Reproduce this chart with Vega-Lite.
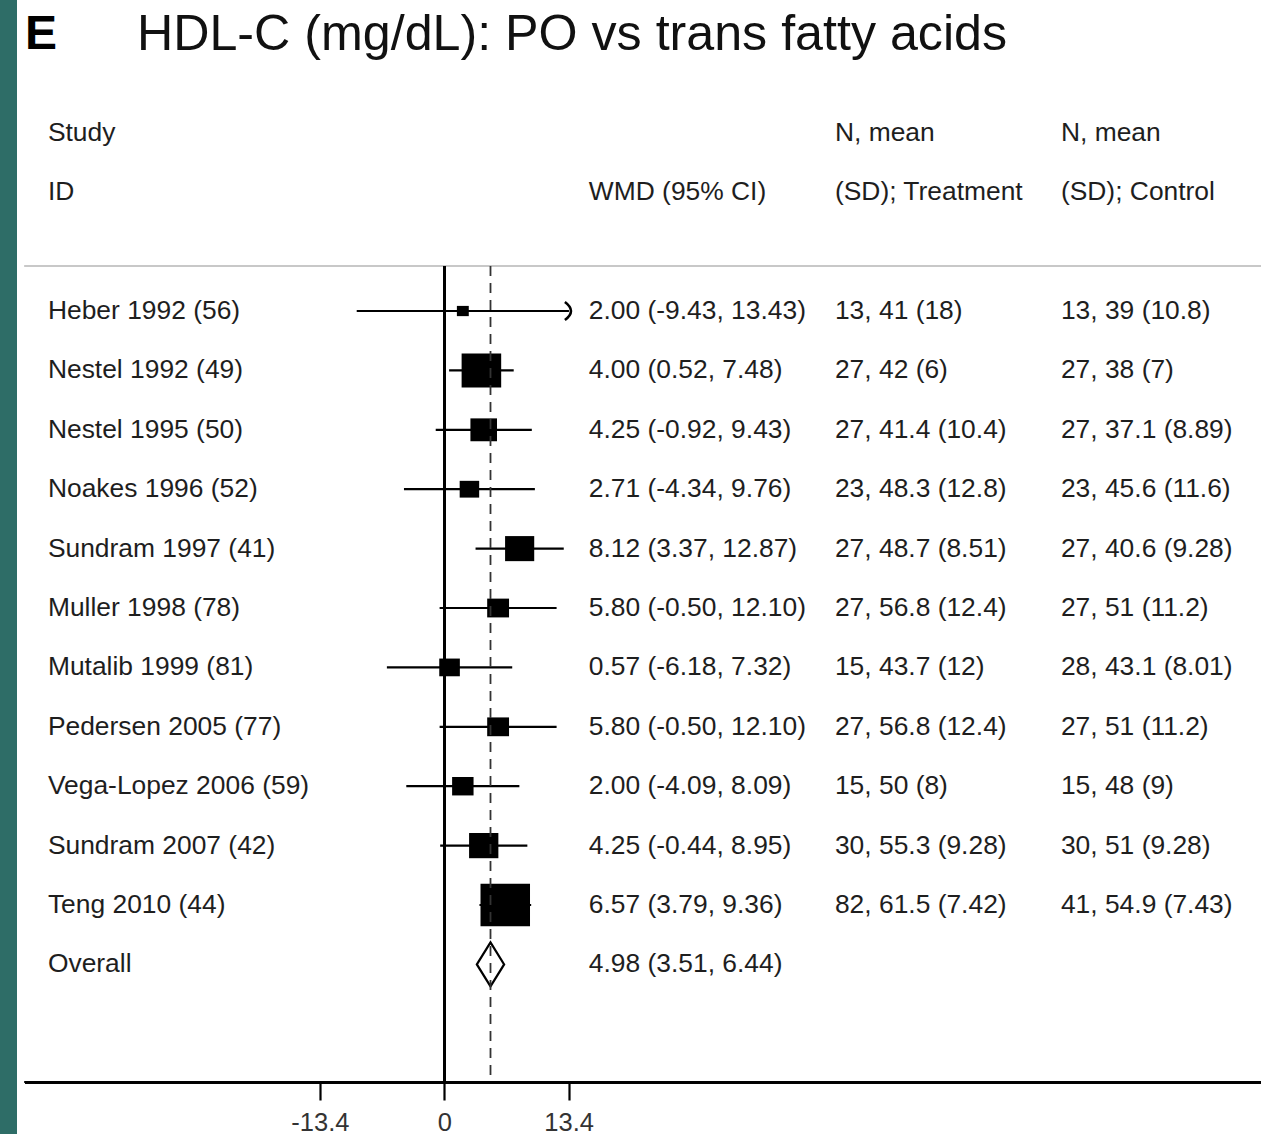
{
  "$schema": "https://vega.github.io/schema/vega-lite/v6.json",
  "width": 1244,
  "height": 1134,
  "autosize": {"type": "none"},
  "padding": {"left": 17, "top": 0, "right": 0, "bottom": 0},
  "background": "#2e6d67",
  "view": {"fill": "white", "stroke": null},
  "config": {
    "font": "Liberation Sans",
    "text": {"font": "Liberation Sans", "fontSize": 26.4, "color": "#1e1e1e", "align": "left", "baseline": "middle"}
  },
  "datasets": {
    "rows": [
      {"row": -2, "study": "Study", "treat": "N, mean", "ctrl": "N, mean"},
      {"row": -1, "study": "ID", "wmd": "WMD (95% CI)", "treat": "(SD); Treatment", "ctrl": "(SD); Control"},
      {"row": 1, "study": "Heber 1992 (56)", "est": 2.00, "lo": -9.43, "hi": 13.43, "weight": 1.6, "wmd": "2.00 (-9.43, 13.43)", "treat": "13, 41 (18)", "ctrl": "13, 39 (10.8)"},
      {"row": 2, "study": "Nestel 1992 (49)", "est": 4.00, "lo": 0.52, "hi": 7.48, "weight": 17.7, "wmd": "4.00 (0.52, 7.48)", "treat": "27, 42 (6)", "ctrl": "27, 38 (7)"},
      {"row": 3, "study": "Nestel 1995 (50)", "est": 4.25, "lo": -0.92, "hi": 9.43, "weight": 8.0, "wmd": "4.25 (-0.92, 9.43)", "treat": "27, 41.4 (10.4)", "ctrl": "27, 37.1 (8.89)"},
      {"row": 4, "study": "Noakes 1996 (52)", "est": 2.71, "lo": -4.34, "hi": 9.76, "weight": 4.3, "wmd": "2.71 (-4.34, 9.76)", "treat": "23, 48.3 (12.8)", "ctrl": "23, 45.6 (11.6)"},
      {"row": 5, "study": "Sundram 1997 (41)", "est": 8.12, "lo": 3.37, "hi": 12.87, "weight": 9.6, "wmd": "8.12 (3.37, 12.87)", "treat": "27, 48.7 (8.51)", "ctrl": "27, 40.6 (9.28)"},
      {"row": 6, "study": "Muller 1998 (78)", "est": 5.80, "lo": -0.50, "hi": 12.10, "weight": 5.4, "wmd": "5.80 (-0.50, 12.10)", "treat": "27, 56.8 (12.4)", "ctrl": "27, 51 (11.2)"},
      {"row": 7, "study": "Mutalib 1999 (81)", "est": 0.57, "lo": -6.18, "hi": 7.32, "weight": 4.8, "wmd": "0.57 (-6.18, 7.32)", "treat": "15, 43.7 (12)", "ctrl": "28, 43.1 (8.01)"},
      {"row": 8, "study": "Pedersen 2005 (77)", "est": 5.80, "lo": -0.50, "hi": 12.10, "weight": 5.4, "wmd": "5.80 (-0.50, 12.10)", "treat": "27, 56.8 (12.4)", "ctrl": "27, 51 (11.2)"},
      {"row": 9, "study": "Vega-Lopez 2006 (59)", "est": 2.00, "lo": -4.09, "hi": 8.09, "weight": 5.2, "wmd": "2.00 (-4.09, 8.09)", "treat": "15, 50 (8)", "ctrl": "15, 48 (9)"},
      {"row": 10, "study": "Sundram 2007 (42)", "est": 4.25, "lo": -0.44, "hi": 8.95, "weight": 9.7, "wmd": "4.25 (-0.44, 8.95)", "treat": "30, 55.3 (9.28)", "ctrl": "30, 51 (9.28)"},
      {"row": 11, "study": "Teng 2010 (44)", "est": 6.57, "lo": 3.79, "hi": 9.36, "weight": 27.7, "wmd": "6.57 (3.79, 9.36)", "treat": "82, 61.5 (7.42)", "ctrl": "41, 54.9 (7.43)"},
      {"row": 12, "study": "Overall", "est": 4.98, "lo": 3.51, "hi": 6.44, "overall": true, "wmd": "4.98 (3.51, 6.44)"}
    ]
  },
  "data": {"name": "rows"},
  "layer": [
    {
      "mark": {"type": "rule", "color": "#c8c8c8", "strokeWidth": 2},
      "encoding": {
        "x": {"datum": -45.17, "type": "quantitative", "scale": {"domain": [-46.02, 87.97], "nice": false, "zero": false},
              "axis": {"values": [-13.4, 0, 13.4], "offset": -52, "domain": false, "grid": false, "title": null, "tickSize": 18, "tickWidth": 2.2, "tickColor": "black", "labelFont": "Liberation Sans", "labelFontSize": 25.5, "labelColor": "#333333", "labelPadding": 10, "labelExpr": "replace(format(datum.value, '.1~f'), '\u2212', '-')"}},
        "x2": {"datum": 87.97},
        "y": {"datum": 0.242, "type": "quantitative", "scale": {"domain": [-4.236, 14.855], "nice": false, "zero": false, "reverse": true}, "axis": null}
      }
    },
    {
      "mark": {"type": "rule", "color": "black", "strokeWidth": 2.2},
      "encoding": {
        "x": {"datum": -45.17, "type": "quantitative", "axis": {"values": [-13.4, 0, 13.4], "offset": -52, "domain": false, "grid": false, "title": null, "tickSize": 18, "tickWidth": 2.2, "tickColor": "black", "labelFont": "Liberation Sans", "labelFontSize": 25.5, "labelColor": "#333333", "labelPadding": 10, "labelExpr": "replace(format(datum.value, '.1~f'), '\u2212', '-')"}},
        "x2": {"datum": 87.97},
        "y": {"datum": 13.98, "type": "quantitative", "axis": null}
      }
    },
    {
      "mark": {"type": "rule", "color": "black", "strokeWidth": 2.2},
      "encoding": {
        "x": {"datum": 0, "type": "quantitative", "axis": {"values": [-13.4, 0, 13.4], "offset": -52, "domain": false, "grid": false, "title": null, "tickSize": 18, "tickWidth": 2.2, "tickColor": "black", "labelFont": "Liberation Sans", "labelFontSize": 25.5, "labelColor": "#333333", "labelPadding": 10, "labelExpr": "replace(format(datum.value, '.1~f'), '\u2212', '-')"}},
        "y": {"datum": 0.242, "type": "quantitative", "axis": null},
        "y2": {"datum": 13.98}
      }
    },
    {
      "transform": [{"filter": "datum.row > 0 && !datum.overall"}],
      "mark": {"type": "rule", "color": "black", "strokeWidth": 2.2},
      "encoding": {
        "x": {"field": "lo", "type": "quantitative", "axis": {"values": [-13.4, 0, 13.4], "offset": -52, "domain": false, "grid": false, "title": null, "tickSize": 18, "tickWidth": 2.2, "tickColor": "black", "labelFont": "Liberation Sans", "labelFontSize": 25.5, "labelColor": "#333333", "labelPadding": 10, "labelExpr": "replace(format(datum.value, '.1~f'), '\u2212', '-')"}},
        "x2": {"field": "hi"},
        "y": {"field": "row", "type": "quantitative", "axis": null}
      }
    },
    {
      "transform": [{"filter": "datum.row > 0 && !datum.overall"}],
      "mark": {"type": "point", "shape": "M-1,-0.86H1V0.86H-1Z", "filled": true, "color": "black", "opacity": 1},
      "encoding": {
        "x": {"field": "est", "type": "quantitative", "axis": {"values": [-13.4, 0, 13.4], "offset": -52, "domain": false, "grid": false, "title": null, "tickSize": 18, "tickWidth": 2.2, "tickColor": "black", "labelFont": "Liberation Sans", "labelFontSize": 25.5, "labelColor": "#333333", "labelPadding": 10, "labelExpr": "replace(format(datum.value, '.1~f'), '\u2212', '-')"}},
        "y": {"field": "row", "type": "quantitative", "axis": null},
        "size": {"field": "weight", "type": "quantitative", "scale": {"type": "linear", "domain": [0, 27.7], "range": [0, 2450], "zero": true}, "legend": null}
      }
    },
    {
      "transform": [{"filter": "datum.hi > 13.4"}],
      "mark": {"type": "point", "shape": "M-0.45,-1Q0.9,0,-0.45,1", "filled": false, "stroke": "black", "strokeWidth": 2.6, "size": 324, "opacity": 1},
      "encoding": {
        "x": {"field": "hi", "type": "quantitative", "axis": {"values": [-13.4, 0, 13.4], "offset": -52, "domain": false, "grid": false, "title": null, "tickSize": 18, "tickWidth": 2.2, "tickColor": "black", "labelFont": "Liberation Sans", "labelFontSize": 25.5, "labelColor": "#333333", "labelPadding": 10, "labelExpr": "replace(format(datum.value, '.1~f'), '\u2212', '-')"}},
        "y": {"field": "row", "type": "quantitative", "axis": null}
      }
    },
    {
      "transform": [{"filter": "datum.overall"}],
      "mark": {"type": "point", "shape": "M-0.62,0L0,-1L0.62,0L0,1Z", "filled": true, "fill": "white", "stroke": "black", "strokeWidth": 2.2, "size": 1936, "opacity": 1, "fillOpacity": 1, "strokeOpacity": 1},
      "encoding": {
        "x": {"field": "est", "type": "quantitative", "axis": {"values": [-13.4, 0, 13.4], "offset": -52, "domain": false, "grid": false, "title": null, "tickSize": 18, "tickWidth": 2.2, "tickColor": "black", "labelFont": "Liberation Sans", "labelFontSize": 25.5, "labelColor": "#333333", "labelPadding": 10, "labelExpr": "replace(format(datum.value, '.1~f'), '\u2212', '-')"}},
        "y": {"field": "row", "type": "quantitative", "axis": null}
      }
    },
    {
      "transform": [{"filter": "datum.overall"}],
      "mark": {"type": "rule", "color": "#333333", "strokeWidth": 1.8, "strokeDash": [10, 7]},
      "encoding": {
        "x": {"field": "est", "type": "quantitative", "axis": {"values": [-13.4, 0, 13.4], "offset": -52, "domain": false, "grid": false, "title": null, "tickSize": 18, "tickWidth": 2.2, "tickColor": "black", "labelFont": "Liberation Sans", "labelFontSize": 25.5, "labelColor": "#333333", "labelPadding": 10, "labelExpr": "replace(format(datum.value, '.1~f'), '\u2212', '-')"}},
        "y": {"datum": 0.242, "type": "quantitative", "axis": null},
        "y2": {"datum": 13.98}
      }
    },
    {
      "mark": {"type": "text"},
      "encoding": {
        "x": {"datum": -42.69, "type": "quantitative", "axis": {"values": [-13.4, 0, 13.4], "offset": -52, "domain": false, "grid": false, "title": null, "tickSize": 18, "tickWidth": 2.2, "tickColor": "black", "labelFont": "Liberation Sans", "labelFontSize": 25.5, "labelColor": "#333333", "labelPadding": 10, "labelExpr": "replace(format(datum.value, '.1~f'), '\u2212', '-')"}},
        "y": {"field": "row", "type": "quantitative", "axis": null},
        "text": {"field": "study"}
      }
    },
    {
      "transform": [{"filter": "isValid(datum.wmd)"}],
      "mark": {"type": "text"},
      "encoding": {
        "x": {"datum": 15.57, "type": "quantitative", "axis": {"values": [-13.4, 0, 13.4], "offset": -52, "domain": false, "grid": false, "title": null, "tickSize": 18, "tickWidth": 2.2, "tickColor": "black", "labelFont": "Liberation Sans", "labelFontSize": 25.5, "labelColor": "#333333", "labelPadding": 10, "labelExpr": "replace(format(datum.value, '.1~f'), '\u2212', '-')"}},
        "y": {"field": "row", "type": "quantitative", "axis": null},
        "text": {"field": "wmd"}
      }
    },
    {
      "transform": [{"filter": "isValid(datum.treat)"}],
      "mark": {"type": "text"},
      "encoding": {
        "x": {"datum": 42.08, "type": "quantitative", "axis": {"values": [-13.4, 0, 13.4], "offset": -52, "domain": false, "grid": false, "title": null, "tickSize": 18, "tickWidth": 2.2, "tickColor": "black", "labelFont": "Liberation Sans", "labelFontSize": 25.5, "labelColor": "#333333", "labelPadding": 10, "labelExpr": "replace(format(datum.value, '.1~f'), '\u2212', '-')"}},
        "y": {"field": "row", "type": "quantitative", "axis": null},
        "text": {"field": "treat"}
      }
    },
    {
      "transform": [{"filter": "isValid(datum.ctrl)"}],
      "mark": {"type": "text"},
      "encoding": {
        "x": {"datum": 66.42, "type": "quantitative", "axis": {"values": [-13.4, 0, 13.4], "offset": -52, "domain": false, "grid": false, "title": null, "tickSize": 18, "tickWidth": 2.2, "tickColor": "black", "labelFont": "Liberation Sans", "labelFontSize": 25.5, "labelColor": "#333333", "labelPadding": 10, "labelExpr": "replace(format(datum.value, '.1~f'), '\u2212', '-')"}},
        "y": {"field": "row", "type": "quantitative", "axis": null},
        "text": {"field": "ctrl"}
      }
    },
    {
      "data": {"values": [{"label": "E"}]},
      "mark": {"type": "text", "fontSize": 48, "fontWeight": "bold", "color": "black"},
      "encoding": {
        "x": {"datum": -45.17, "type": "quantitative", "axis": {"values": [-13.4, 0, 13.4], "offset": -52, "domain": false, "grid": false, "title": null, "tickSize": 18, "tickWidth": 2.2, "tickColor": "black", "labelFont": "Liberation Sans", "labelFontSize": 25.5, "labelColor": "#333333", "labelPadding": 10, "labelExpr": "replace(format(datum.value, '.1~f'), '\u2212', '-')"}},
        "y": {"datum": -3.64, "type": "quantitative", "axis": null},
        "text": {"field": "label"}
      }
    },
    {
      "data": {"values": [{"label": "HDL-C (mg/dL): PO vs trans fatty acids"}]},
      "mark": {"type": "text", "fontSize": 50.2, "color": "#111111"},
      "encoding": {
        "x": {"datum": -33.10, "type": "quantitative", "axis": {"values": [-13.4, 0, 13.4], "offset": -52, "domain": false, "grid": false, "title": null, "tickSize": 18, "tickWidth": 2.2, "tickColor": "black", "labelFont": "Liberation Sans", "labelFontSize": 25.5, "labelColor": "#333333", "labelPadding": 10, "labelExpr": "replace(format(datum.value, '.1~f'), '\u2212', '-')"}},
        "y": {"datum": -3.64, "type": "quantitative", "axis": null},
        "text": {"field": "label"}
      }
    }
  ]
}
